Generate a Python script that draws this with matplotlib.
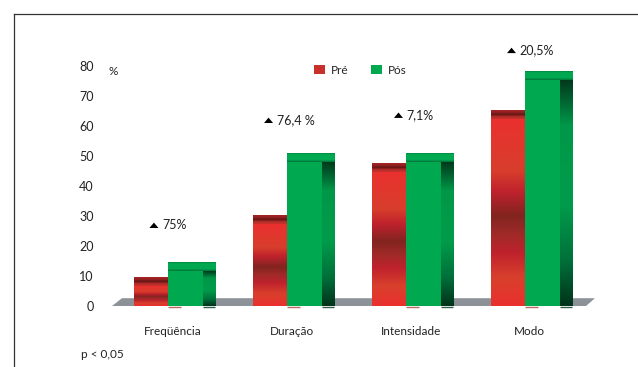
"""
Gráfico de barras Pré/Pós (atividade física) com visual 3D simulado.
Saída: out.png
"""

import numpy as np
import matplotlib
matplotlib.use("Agg")
import matplotlib.pyplot as plt
from matplotlib.colors import LinearSegmentedColormap
from matplotlib.patches import Polygon, Patch
from matplotlib.lines import Line2D

# --- Dados ---
categorias = ["Freqüência", "Duração", "Intensidade", "Modo"]
pre = [6.6, 27.2, 44.8, 62.5]
pos = [11.55, 48.0, 48.0, 75.3]
variacao = ["75%", "76,4 %", "7,1%", "20,5%"]
yticks = list(range(0, 81, 10))

# --- Layout (posições das anotações, em unidades dos eixos) ---
rot_dx = [-0.118, -0.155, -0.063, -0.113]
rot_y = [27.0, 62.0, 63.7, 85.3]

FONTE = ["Lato", "DejaVu Sans"]
plt.rcParams["font.family"] = FONTE
COR_TXT = "#222222"

larg_pre = 0.286
larg_pos = 0.294
larg_lado = 0.101
prof = 3.0  # altura da face superior

cm_pre = LinearSegmentedColormap.from_list("pre", [
    (0.00, "#ea302e"), (0.15, "#d8402c"), (0.28, "#c0222d"), (0.38, "#a02a28"),
    (0.48, "#822420"), (0.61, "#c0222d"), (0.72, "#d83e2c"), (1.00, "#ea302f")])
cm_pre_topo = LinearSegmentedColormap.from_list("pre_topo", [
    (0.00, "#c8342e"), (0.30, "#b02a28"), (0.50, "#5e1414"),
    (0.70, "#8e2020"), (1.00, "#a82426")])
cm_lado = LinearSegmentedColormap.from_list("lado", [
    (0.00, "#00331a"), (0.20, "#00703a"), (0.45, "#009c4b"),
    (0.80, "#009848"), (0.93, "#005a2c"), (1.00, "#003a1c")])
cm_pos_topo = LinearSegmentedColormap.from_list("pos_topo", [
    (0.00, "#007238"), (0.12, "#008a42"), (0.25, "#00aa52"),
    (0.85, "#00a850"), (1.00, "#00823e")])


def degrade(ax, patch, cmap, z):
    b = patch.get_bbox()
    g = np.linspace(0, 1, 256).reshape(-1, 1)
    im = ax.imshow(g, extent=(b.x0, b.x1, b.y0, b.y1), origin="lower",
                   aspect="auto", cmap=cmap, interpolation="bilinear", zorder=z)
    im.set_clip_path(patch)


fig = plt.figure(figsize=(6.38, 3.67), dpi=100)
ax = fig.add_axes([0.1514, 0.1335, 0.802, 0.7847])

x = np.arange(len(categorias))

# piso cinza
piso = Polygon([(-0.47, 0), (-0.387, 2.6), (3.588, 2.6), (3.513, 0)],
               closed=True, facecolor="#8c9298", edgecolor="none", zorder=1)
ax.add_patch(piso)

# barras Pré
b_pre = ax.bar(x - larg_pre / 2, pre, larg_pre, color="none", zorder=3)
b_pre_topo = ax.bar(x - larg_pre / 2, prof, larg_pre, bottom=pre, color="none", zorder=3)
for p in b_pre:
    degrade(ax, p, cm_pre, 3)
for p in b_pre_topo:
    degrade(ax, p, cm_pre_topo, 3)

# barras Pós (frente, lado, topo)
ax.bar(x + larg_pos / 2, pos, larg_pos, color="#00a84f", zorder=4)
b_lado = ax.bar(x + larg_pos + larg_lado / 2, pos, larg_lado, color="none", zorder=4)
b_pos_topo = ax.bar(x + (larg_pos + larg_lado) / 2, prof, larg_pos + larg_lado,
                    bottom=pos, color="none", zorder=4)
for p in b_lado:
    degrade(ax, p, cm_lado, 4)
for p in b_pos_topo:
    degrade(ax, p, cm_pos_topo, 4)

# pequenos traços sob as barras
ax.hlines([-0.45] * len(x), x, x + 0.11, color="#b86a60", lw=1, zorder=2)
ax.hlines([-0.45] * len(x), x + larg_pos, x + larg_pos + larg_lado,
          color="#2f5e4a", lw=1, zorder=2)

# anotações de variação
for xi, dx, yy, txt in zip(x, rot_dx, rot_y, variacao):
    cx = xi + dx
    tri = Polygon([(cx - 0.038, yy - 1.0), (cx + 0.038, yy - 1.0), (cx, yy + 0.8)],
                  closed=True, facecolor="black", edgecolor="none", zorder=5)
    ax.add_patch(tri)
    ax.text(cx + 0.068, yy, txt, ha="left", va="center", fontsize=9, color=COR_TXT)

ax.set_xlim(-0.6, 3.7)
ax.set_ylim(-4, 92)
ax.set_yticks(yticks)
ax.set_yticklabels([str(t) for t in yticks])
ax.set_xticks(x + 0.04)
ax.set_xticklabels(categorias)
ax.tick_params(axis="both", length=0, labelsize=8.5, colors=COR_TXT)
ax.tick_params(axis="x", pad=6)
ax.tick_params(axis="y", pad=2, labelsize=9)
for s in ax.spines.values():
    s.set_visible(False)

ax.text(-0.46, 80, "%", ha="center", va="top", fontsize=8.5, color=COR_TXT)

# legenda
h_pre = Patch(facecolor="#c8302c", edgecolor="none")
h_pos = Patch(facecolor="#00a84f", edgecolor="none")
fig.legend([h_pre, h_pos], ["Pré", "Pós"], loc="center",
           bbox_to_anchor=(0.565, 0.809), ncol=2, frameon=False,
           fontsize=8.5, handlelength=0.95, handleheight=0.85,
           handletextpad=0.5, columnspacing=1.9, labelcolor=COR_TXT)

fig.text(81 / 638, 1 - 355 / 367, "p < 0,05", ha="left", va="center",
         fontsize=8.5, color=COR_TXT)

# moldura (esquerda e topo)
fig.add_artist(Line2D([13.5 / 638, 13.5 / 638], [0, 1 - 13.5 / 367],
                      color="#333333", lw=0.9, transform=fig.transFigure))
fig.add_artist(Line2D([13.5 / 638, 1], [1 - 13.5 / 367, 1 - 13.5 / 367],
                      color="#333333", lw=0.9, transform=fig.transFigure))

fig.savefig("out.png", dpi=100, facecolor="white")
plt.close(fig)
